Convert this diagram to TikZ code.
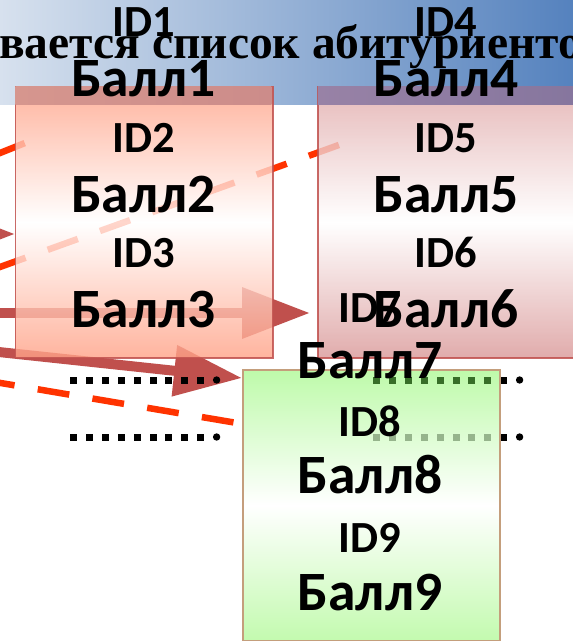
\documentclass[tikz,border=0pt]{standalone}
\usepackage{fontspec}
\setmainfont{Carlito}
\newfontfamily\titlefont{Liberation Serif}
\usetikzlibrary{arrows.meta}
\definecolor{hdrL}{RGB}{215,225,238}
\definecolor{hdrR}{RGB}{85,130,190}
\definecolor{arrc}{RGB}{192,80,77}
\definecolor{dashc}{RGB}{255,51,0}
\definecolor{boxAc}{RGB}{255,161,134}
\definecolor{boxBt}{RGB}{224,168,168}
\definecolor{boxBb}{RGB}{217,151,151}
\definecolor{grnT}{RGB}{190,250,170}
\definecolor{grnB}{RGB}{195,250,175}
\definecolor{grnEdge}{RGB}{196,158,124}
\definecolor{ovAL}{RGB}{214,150,142}
\definecolor{ovAR}{RGB}{204,140,138}
\definecolor{ovBL}{RGB}{152,130,166}
\definecolor{ovBR}{RGB}{134,118,158}
\definecolor{dotG1}{RGB}{55,110,40}
\definecolor{dotG2}{RGB}{150,180,140}
\tikzset{
  idtxt/.style={anchor=base, inner sep=0pt, font=\bfseries\fontsize{44.5bp}{44.5bp}\selectfont},
  balltxt/.style={anchor=base, inner sep=0pt, font=\bfseries\fontsize{55.5bp}{55.5bp}\selectfont},
  bigarrow/.style={draw=arrc, fill=arrc, line width=10bp, -{Triangle[length=68bp,width=49bp]}},
  redDash/.style={draw=dashc, line width=6.5bp, dash pattern=on 32bp off 23.5bp},
  rbox/.style={draw=arrc, draw opacity=0.85, line width=1.5bp, fill opacity=0.8, anchor=north west, inner sep=0pt},
}
\begin{document}
\begin{tikzpicture}[x=1bp,y=-1bp]
\useasboundingbox (0,0) rectangle (573,641);
\clip (0,0) rectangle (573,641);
% header band
\shade[left color=hdrL, right color=hdrR] (0,0) rectangle (573,105);
% coordinates for connectors
\coordinate (d1s) at (-17,380);
\coordinate (d1e) at (237,423);
\coordinate (d2s) at (-4.5,268.6);
\coordinate (d2e) at (340.5,144.4);
\coordinate (d3s) at (-5,155);
\coordinate (d3e) at (25,143);
\coordinate (a1s) at (-20,313);
\coordinate (a1e) at (310,313);
\coordinate (a2s) at (-20,350);
\coordinate (a2e) at (242,378);
\coordinate (a3s) at (-90,234);
\coordinate (a3e) at (15,234);
% dashed lines
\draw[redDash] (d1s) -- (d1e);
\draw[redDash] (d2s) -- (d2e);
\draw[redDash] (d3s) -- (d3e);
% arrows
\draw[bigarrow] (a1s) -- (a1e);
\draw[bigarrow] (a2s) -- (a2e);
\draw[bigarrow] (a3s) -- (a3e);
% left dotted rows
\foreach \yy in {380,437}{
  \foreach \i in {0,...,8}{
    \fill (70+15.9*\i,\yy-3.5) rectangle ++(7,7);
  }
  \fill (70+15.9*9+3.5,\yy) circle (3.7bp);
}
% boxes
\node[rbox, minimum width=257.5bp, minimum height=271bp, top color=boxAc, bottom color=boxAc, middle color=white] (b1) at (14.5,86) {};
\node[rbox, minimum width=270bp, minimum height=271bp, top color=boxBt, bottom color=boxBb, middle color=white] (b2) at (317,86) {};
% overlap of boxes with header
\shade[left color=ovAL, right color=ovAR] (15.25,86.75) rectangle (271.25,105);
\shade[left color=ovBL, right color=ovBR] (317.75,86.75) rectangle (573,105);
% right dotted rows (behind green box shown tinted)
\foreach \yy in {380,437}{
  \foreach \i in {0,...,8}{
    \fill (373+15.9*\i,\yy-3.5) rectangle ++(7,7);
  }
  \fill (373+15.9*9+3.5,\yy) circle (3.7bp);
}
\node[draw=grnEdge, line width=1.5bp, anchor=north west, inner sep=0pt, minimum width=257bp, minimum height=271bp, top color=grnT, bottom color=grnB, middle color=white] (g) at (242,369) {};
\foreach \yy/\cc in {380/dotG1,437/dotG2}{
  \foreach \i in {0,...,7}{
    \fill[\cc] (373+15.9*\i,\yy-3.5) rectangle ++(7,7);
  }
}
% title
\node[anchor=base west, inner sep=0pt, font=\titlefont\bfseries\fontsize{47.5bp}{47.5bp}\selectfont] (title) at (-1,59) {вается список абитуриенто};
% texts left box
\node[idtxt]   (t1) at (143.5,37)  {ID1};
\node[balltxt] (t2) at (143.5,97)  {Балл1};
\node[idtxt]   (t3) at (143.5,153) {ID2};
\node[balltxt] (t4) at (143.5,212) {Балл2};
\node[idtxt]   (t5) at (143.5,267) {ID3};
\node[balltxt] (t6) at (143.5,327) {Балл3};
% texts right box
\node[idtxt]   (u1) at (446,37)  {ID4};
\node[balltxt] (u2) at (446,97)  {Балл4};
\node[idtxt]   (u3) at (446,153) {ID5};
\node[balltxt] (u4) at (446,212) {Балл5};
\node[idtxt]   (u5) at (446,267) {ID6};
\node[balltxt] (u6) at (446,327) {Балл6};
% texts green box
\node[idtxt]   (v1) at (370,322) {ID7};
\node[balltxt] (v2) at (370,378) {Балл7};
\node[idtxt]   (v3) at (370,436) {ID8};
\node[balltxt] (v4) at (370,493) {Балл8};
\node[idtxt]   (v5) at (370,552) {ID9};
\node[balltxt] (v6) at (370,610) {Балл9};
\end{tikzpicture}
\end{document}
